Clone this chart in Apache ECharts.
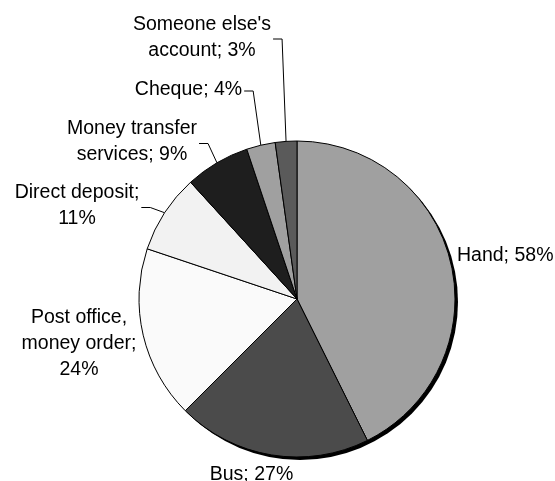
<!DOCTYPE html>
<html>
<head>
<meta charset="utf-8">
<script src="https://cdn.jsdelivr.net/npm/echarts@6/dist/echarts.min.js"></script>
<style>
  html, body { margin: 0; padding: 0; background: #fff; }
  #main { width: 555px; height: 481px; }
</style>
</head>
<body>
<div id="main"></div>
<script>
// slice names (with line breaks as in the picture), values in %, and the text between them
var names = ['Hand', 'Bus', 'Post office,\nmoney order', 'Direct deposit', 'Money transfer\nservices', 'Cheque', "Someone else's\naccount"];
var values = [58, 27, 24, 11, 9, 4, 3];
var separators = ['; ', '; ', ';\n', ';\n', '; ', '; ', '; '];
var colors = ['#a0a0a0', '#4b4b4b', '#fafafa', '#f2f2f2', '#1e1e1e', '#a0a0a0', '#5a5a5a'];
var withLine = [false, false, false, true, true, true, true];

// where each label sits: [x, y, align]
var labelPos = [
  [457, 255.5, 'left'],
  [251.5, 475, 'center'],
  [79, 343.5, 'center'],
  [77, 206, 'center'],
  [132, 142, 'center'],
  [188.5, 89.5, 'center'],
  [202, 37.5, 'center']
];

var cx = 297, cy = 299, r = 158;

var myChart = echarts.init(document.getElementById('main'), null, { renderer: 'canvas' });

var pieData = names.map(function (n, i) {
  return {
    name: n,
    value: values[i],
    itemStyle: { color: colors[i] },
    labelLine: { show: withLine[i] }
  };
});

myChart.setOption({
  backgroundColor: '#fff',
  animation: false,
  series: [
    {
      // drop shadow behind the pie
      type: 'pie',
      silent: true,
      center: [cx + 3, cy + 3],
      radius: r,
      label: { show: false },
      labelLine: { show: false },
      itemStyle: { color: '#000', borderWidth: 0 },
      data: [{ value: 1 }]
    },
    {
      type: 'pie',
      center: [cx, cy],
      radius: r,
      startAngle: 90,
      clockwise: true,
      avoidLabelOverlap: false,
      minShowLabelAngle: 0,
      itemStyle: { borderColor: '#000', borderWidth: 1 },
      label: {
        show: true,
        position: 'outside',
        color: '#000',
        fontFamily: 'Liberation Sans, Arial, sans-serif',
        fontSize: 19.5,
        lineHeight: 26,
        formatter: function (p) {
          return p.name + separators[p.dataIndex] + p.value + '%';
        }
      },
      labelLine: {
        length: 10,
        length2: 10,
        lineStyle: { color: '#000', width: 1 }
      },
      emphasis: { disabled: true },
      labelLayout: function (p) {
        var i = p.dataIndex;
        var pos = labelPos[i];
        var out = { x: pos[0], y: pos[1], align: pos[2], verticalAlign: 'middle' };
        if (withLine[i] && p.labelLinePoints) {
          var a = p.labelLinePoints[0];
          var right = pos[2] === 'center' ? pos[0] + p.labelRect.width / 2 : pos[0] + p.labelRect.width;
          var ly = pos[1] + 1.5;
          out.labelLinePoints = [[a[0], a[1]], [right + 11, ly], [right + 2, ly]];
        }
        return out;
      },
      data: pieData
    }
  ]
});
</script>
</body>
</html>
